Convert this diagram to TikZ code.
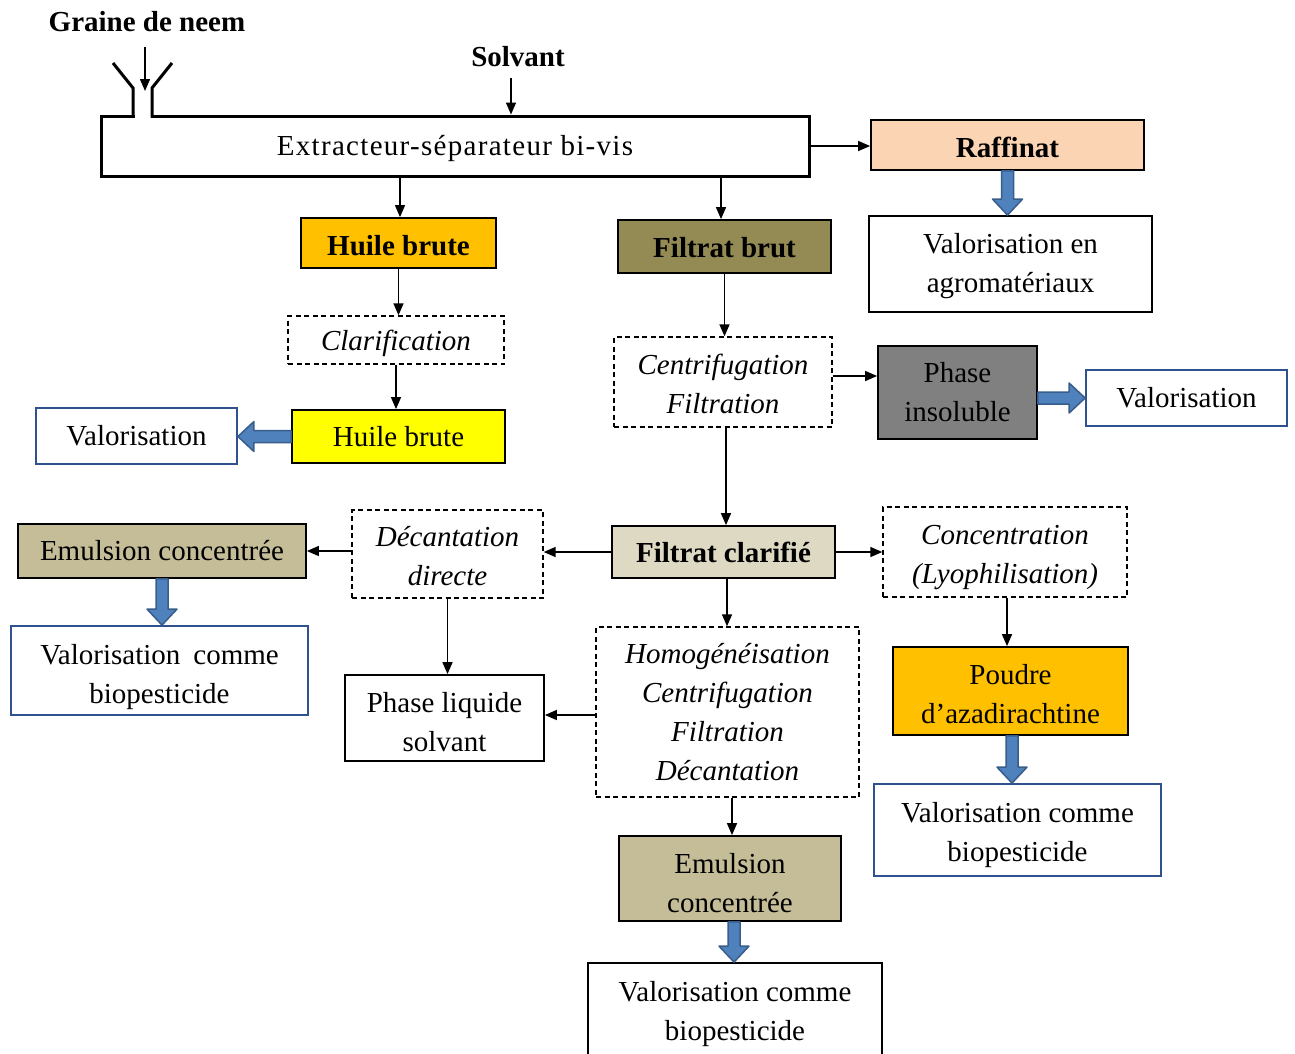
\documentclass[tikz,border=0pt]{standalone}
\usepackage{fontspec}
\setmainfont{Liberation Serif}
\usetikzlibrary{calc,arrows.meta}
\definecolor{peach}{HTML}{FBD4B4}
\definecolor{gold}{HTML}{FFC000}
\definecolor{olive}{HTML}{948A54}
\definecolor{yel}{HTML}{FFFF00}
\definecolor{grayb}{HTML}{808080}
\definecolor{ltan}{HTML}{DDD9C3}
\definecolor{tan}{HTML}{C4BD97}
\definecolor{bluebd}{HTML}{2F528F}
\definecolor{arrfill}{HTML}{4F81BD}
\definecolor{arrbd}{HTML}{385D8A}
\newcommand{\sh}[1]{\rule{0pt}{\dimexpr 20pt+#1pt*2\relax}}
\newcommand{\blkarrow}[2]{%
  \path (#1) coordinate (bS) (#2) coordinate (bT) ($(bT)!16pt!(bS)$) coordinate (bH);
  \draw[blk] ($(bS)!6pt!90:(bT)$) -- ($(bH)!6pt!90:(bT)$) -- ($(bH)!15pt!90:(bT)$) -- (bT)
    -- ($(bH)!15pt!-90:(bT)$) -- ($(bH)!6pt!-90:(bT)$) -- ($(bS)!6pt!-90:(bT)$) -- cycle;}
\tikzset{
  txt/.style={font=\fontsize{29}{39}\selectfont, align=center, inner sep=0pt},
  bx/.style={txt, draw=black, line width=1.8pt},
  bbx/.style={txt, draw=bluebd, line width=1.8pt, fill=white},
  dbx/.style={txt, draw=black, line width=1.4pt, dash pattern=on 5pt off 3.5pt, font=\fontsize{29}{39}\selectfont\itshape},
  arr/.style={line width=1.5pt, -{Triangle[length=12pt,width=10pt]}},
  blk/.style={fill=arrfill, draw=arrbd, line width=1.5pt, line join=round},
  sz/.style 2 args={minimum width=#1pt, minimum height=#2pt},
}
\begin{document}
\begin{tikzpicture}[x=1pt,y=-1pt]
\useasboundingbox (0,0) rectangle (1295,1053);
% titles
\node[txt, font=\fontsize{29}{39}\selectfont\bfseries] (graine) at (147,22) {Graine de neem};
\node[txt, font=\fontsize{29}{39}\selectfont\bfseries] (solvant) at (518,57) {Solvant};
% extractor
\node[bx, line width=3pt, sz={708}{60}, font=\fontsize{29}{39}\selectfont\addfontfeature{LetterSpace=4.5}] (ext) at (455,146) {\sh{3}Extracteur-séparateur bi-vis};
\fill[white] (134.5,112) rectangle (150.5,119.5);
\draw[line width=3pt, line join=miter] (113,63) -- (133,88) -- (133,117.5);
\draw[line width=3pt, line join=miter] (172,63) -- (152,88) -- (152,117.5);
\coordinate (g0) at (145,47);
\coordinate (g1) at (145,91);
\draw[arr] (g0) -- (g1);
\coordinate (s0) at (511,78);
\draw[arr] (s0) -- (s0 |- ext.north);
% nodes
\node[bx, fill=peach, sz={273}{50}, font=\fontsize{29}{39}\selectfont\bfseries] (raff) at (1007.5,145) {\sh{3}Raffinat};
\node[bx, sz={283}{96}] (agro) at (1010.5,264) {\sh{2}Valorisation en\\agromatériaux};
\node[bx, fill=gold, sz={195}{50}, font=\fontsize{29}{39}\selectfont\bfseries] (huile1) at (398.5,243) {\sh{3}Huile brute};
\node[bx, fill=olive, sz={213}{53}, font=\fontsize{29}{39}\selectfont\bfseries] (fbrut) at (724.5,246.5) {\sh{1}Filtrat brut};
\node[dbx, sz={216}{48}] (clar) at (396,340) {\sh{4}Clarification};
\node[bx, fill=yel, sz={213}{53}] (huile2) at (398.5,436.5) {Huile brute};
\node[bbx, sz={201}{56}] (valo1) at (136.5,436) {Valorisation};
\node[dbx, sz={218}{90}] (centri) at (723,382) {\sh{2}Centrifugation\\Filtration};
\node[bx, fill=grayb, sz={159}{93}] (phase) at (957.5,392.5) {Phase\\insoluble};
\node[bbx, sz={201}{56}] (valo2) at (1186.5,398) {Valorisation};
\node[bx, fill=ltan, sz={223}{52}, font=\fontsize{29}{39}\selectfont\bfseries] (fclar) at (723.5,552) {Filtrat clarifié};
\node[dbx, sz={191}{88}] (decant) at (447.5,554) {\sh{2}Décantation\\directe};
\node[bx, fill=tan, sz={288}{54}] (emul1) at (162,551) {Emulsion concentrée};
\node[bbx, sz={297}{89}] (valo3) at (159.5,670.5) {\sh{7}Valorisation\hspace{13pt}comme\\biopesticide};
\node[bx, sz={199}{86}] (liq) at (444.5,718) {\sh{4}Phase liquide\\solvant};
\node[dbx, sz={244}{90}] (conc) at (1005,552) {\sh{5}Concentration\\(Lyophilisation)};
\node[bx, fill=gold, sz={235}{88}] (poudre) at (1010.5,691) {\sh{3}Poudre\\d’azadirachtine};
\node[bbx, sz={287}{92}] (valo4) at (1017.5,830) {\sh{5}Valorisation comme\\biopesticide};
\node[dbx, sz={263}{170}] (homog) at (727.5,712) {Homogénéisation\\Centrifugation\\Filtration\\Décantation};
\node[bx, fill=tan, sz={222}{85}] (emul2) at (730,878.5) {\sh{5}Emulsion\\concentrée};
\node[bx, sz={294}{94}] (valo5) at (735,1010) {\sh{4}Valorisation comme\\biopesticide};
% connectors
\draw[arr] (ext.east) -- (ext.east -| raff.west);
\draw[arr] ($(huile1.north |- ext.south)+(1.5,0)$) -- ($(huile1.north)+(1.5,0)$);
\draw[arr] ($(fbrut.north |- ext.south)+(-3.5,0)$) -- ($(fbrut.north)+(-3.5,0)$);
\draw[arr] (huile1.south) -- (huile1.south |- clar.north);
\draw[arr] (clar.south) -- (clar.south |- huile2.north);
\draw[arr] (fbrut.south) -- (fbrut.south |- centri.north);
\draw[arr] ($(centri.east)+(0,-6)$) -- ($(centri.east -| phase.west)+(0,-6)$);
\draw[arr] ($(fclar.north |- centri.south)+(2.5,0)$) -- ($(fclar.north)+(2.5,0)$);
\draw[arr] (fclar.west) -- (fclar.west -| decant.east);
\draw[arr] (emul1.east -| decant.west) -- (emul1.east);
\draw[arr] (decant.south) -- (decant.south |- liq.north);
\draw[arr] (fclar.east) -- (fclar.east -| conc.west);
\draw[arr] ($(conc.south)+(2,0)$) -- ($(conc.south |- poudre.north)+(2,0)$);
\draw[arr] ($(fclar.south)+(3.5,0)$) -- ($(fclar.south |- homog.north)+(3.5,0)$);
\draw[arr] ($(homog.west)+(0,3)$) -- ($(homog.west -| liq.east)+(0,3)$);
\draw[arr] ($(emul2.north |- homog.south)+(2,0)$) -- ($(emul2.north)+(2,0)$);
% block arrows
\blkarrow{raff.south}{raff.south |- agro.north}
\blkarrow{huile2.west}{huile2.west -| valo1.east}
\blkarrow{valo2.west -| phase.east}{valo2.west}
\blkarrow{emul1.south}{emul1.south |- valo3.north}
\blkarrow{$(poudre.south)+(1.5,0)$}{$(poudre.south |- valo4.north)+(1.5,0)$}
\blkarrow{$(emul2.south)+(4,0)$}{$(emul2.south |- valo5.north)+(4,0)$}
\end{tikzpicture}
\end{document}
